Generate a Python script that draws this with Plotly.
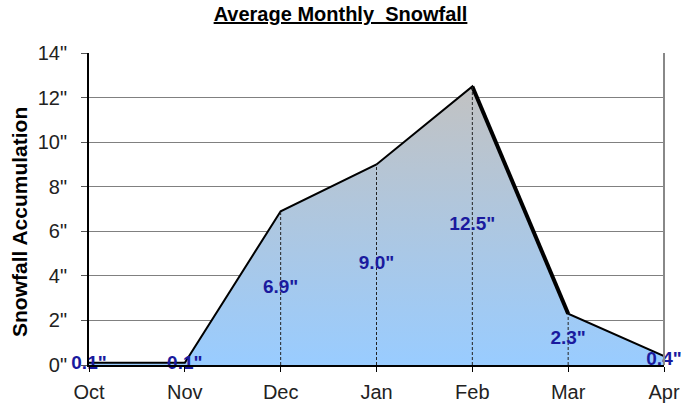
import plotly.graph_objects as go

months = ["Oct", "Nov", "Dec", "Jan", "Feb", "Mar", "Apr"]
snowfall = [0.1, 0.1, 6.9, 9.0, 12.5, 2.3, 0.4]
y_ticks = [0, 2, 4, 6, 8, 10, 12, 14]
y_tick_text = [f'{t}"' for t in y_ticks]
label_texts = [f'{v:.1f}"' for v in snowfall]

fig = go.Figure()

# filled area with vertical gradient
fig.add_trace(go.Scatter(
    x=months, y=snowfall, mode="lines", fill="tozeroy",
    line=dict(color="black", width=2),
    fillgradient=dict(type="vertical", colorscale=[[0, "#99ccff"], [1, "#c2c2c2"]],
                      start=0, stop=max(snowfall)),
    hoverinfo="skip", showlegend=False,
))

# thicker Feb -> Mar edge
fig.add_trace(go.Scatter(
    x=months[4:6], y=snowfall[4:6], mode="lines",
    line=dict(color="black", width=4), hoverinfo="skip", showlegend=False,
))

# dotted drop lines
drop_x, drop_y = [], []
for m, v in zip(months[2:6], snowfall[2:6]):
    drop_x += [m, m, None]
    drop_y += [0, v, None]
fig.add_trace(go.Scatter(
    x=drop_x, y=drop_y, mode="lines",
    line=dict(color="#222222", width=1, dash="3px,2px"),
    hoverinfo="skip", showlegend=False,
))

# data labels at half height
fig.add_trace(go.Scatter(
    x=months, y=[v / 2 for v in snowfall], mode="text", text=label_texts,
    textposition="middle center",
    textfont=dict(family="Liberation Sans, Arial, sans-serif", size=19, color="#1a1a9e"),
    texttemplate="<b>%{text}</b>", hoverinfo="skip", showlegend=False, cliponaxis=False,
))

fig.update_layout(
    width=681, height=404,
    margin=dict(l=89, r=17, t=53, b=39),
    paper_bgcolor="white", plot_bgcolor="white",
    font=dict(family="Liberation Sans, Arial, sans-serif", color="#222222"),
    title=dict(text="<b><u>Average Monthly  Snowfall</u></b>", x=0.5, xref="container",
               xanchor="center", y=1 - 14 / 404, yanchor="middle",
               font=dict(size=20, color="black")),
    xaxis=dict(type="category", range=[0, len(months) - 1], showgrid=False,
               showline=True, linecolor="black", linewidth=2,
               ticks="outside", ticklen=5, tickcolor="black", automargin=False,
               tickfont=dict(size=20, color="#222222"), ticklabelstandoff=3, zeroline=False),
    yaxis=dict(range=[0, 14], tickmode="array", tickvals=y_ticks, ticktext=y_tick_text,
               showgrid=True, gridcolor="#808080", gridwidth=1,
               showline=True, linecolor="black", linewidth=2, automargin=False,
               ticks="outside", ticklen=6, tickcolor="#555555",
               tickfont=dict(size=20, color="#222222"), ticklabelstandoff=10, zeroline=False),
    showlegend=False,
    shapes=[dict(type="line", xref="paper", yref="paper", x0=1, x1=1, y0=0, y1=1,
                 line=dict(color="#888888", width=2))],
    annotations=[dict(text="<b>Snowfall Accumulation</b>", textangle=-90,
                      xref="paper", yref="paper", x=(19 - 89) / 575, y=(365 - 222) / 312,
                      xanchor="center", yanchor="middle", showarrow=False,
                      font=dict(size=21, color="black"))],
)

fig.write_html("out.html", config={"displayModeBar": False},
               post_script="document.body.style.margin='0';document.body.style.overflow='hidden';")
